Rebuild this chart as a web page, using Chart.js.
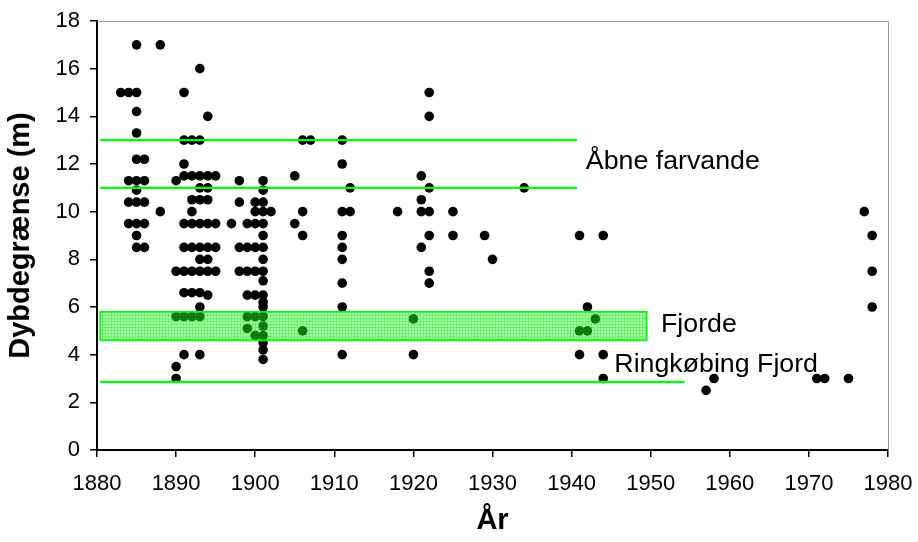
<!DOCTYPE html>
<html>
<head>
<meta charset="utf-8">
<script src="https://cdn.jsdelivr.net/npm/chart.js@4.4.1/dist/chart.umd.min.js"></script>
<style>
  html, body { margin: 0; padding: 0; background: #fff; }
  canvas { display: block; }
</style>
</head>
<body>
<canvas id="depthChart" width="918" height="542"></canvas>
<script>
// observations: year and depth limit (m), same index
const years = [
    1883,
    1884, 1884, 1884, 1884,
    1885, 1885, 1885, 1885, 1885, 1885, 1885, 1885, 1885, 1885, 1885,
    1886, 1886, 1886, 1886, 1886,
    1888, 1888,
    1890, 1890, 1890, 1890, 1890,
    1891, 1891, 1891, 1891, 1891, 1891, 1891, 1891, 1891, 1891,
    1892, 1892, 1892, 1892, 1892, 1892, 1892, 1892, 1892,
    1893, 1893, 1893, 1893, 1893, 1893, 1893, 1893, 1893, 1893, 1893, 1893, 1893,
    1894, 1894, 1894, 1894, 1894, 1894, 1894, 1894, 1894,
    1895, 1895, 1895, 1895,
    1897,
    1898, 1898, 1898, 1898,
    1899, 1899, 1899, 1899, 1899, 1899,
    1900, 1900, 1900, 1900, 1900, 1900, 1900, 1900,
    1901, 1901, 1901, 1901, 1901, 1901, 1901, 1901, 1901, 1901,
    1901, 1901, 1901, 1901, 1901, 1901, 1901, 1901, 1901,
    1902,
    1905, 1905,
    1906, 1906, 1906, 1906,
    1907,
    1911, 1911, 1911, 1911, 1911, 1911, 1911, 1911, 1911,
    1912, 1912,
    1918,
    1920, 1920,
    1921, 1921, 1921, 1921,
    1922, 1922, 1922, 1922, 1922, 1922, 1922,
    1925, 1925,
    1929,
    1930,
    1934,
    1941, 1941, 1941,
    1942, 1942,
    1943,
    1944, 1944, 1944,
    1957, 1958,
    1971, 1972, 1975,
    1977,
    1978, 1978, 1978
];
const depths = [
    15,
    15, 11.3, 10.4, 9.5,
    17, 15, 14.2, 13.3, 12.2, 11.3, 10.9, 10.4, 9.5, 9, 8.5,
    12.2, 11.3, 10.4, 9.5, 8.5,
    17, 10,
    11.3, 7.5, 5.6, 3.5, 3,
    15, 13, 12, 11.5, 9.5, 8.5, 7.5, 6.6, 5.6, 4,
    13, 11.5, 10.5, 10, 9.5, 8.5, 7.5, 6.6, 5.6,
    16, 13, 11.5, 11, 10.5, 9.5, 8.5, 8, 7.5, 6.6, 6, 5.6, 4,
    14, 11.5, 11, 10.5, 9.5, 8.5, 8, 7.5, 6.5,
    11.5, 9.5, 8.5, 7.5,
    9.5,
    11.3, 10.4, 8.5, 7.5,
    9.5, 8.5, 7.5, 6.5, 5.6, 5.1,
    10.4, 10, 9.5, 8.5, 7.5, 6.5, 5.6, 4.8,
    11.3, 10.9, 10.4, 10, 9.5, 9, 8.5, 8, 7.5, 7.1,
    6.5, 6.2, 6, 5.6, 5.2, 4.8, 4.5, 4.2, 3.8,
    10,
    11.5, 9.5,
    13, 10, 9, 5,
    13,
    13, 12, 10, 9, 8.5, 8, 7, 6, 4,
    11, 10,
    10,
    5.5, 4,
    11.5, 10.5, 10, 8.5,
    15, 14, 11, 10, 9, 7.5, 7,
    10, 9,
    9,
    8,
    11,
    9, 5, 4,
    6, 5,
    5.5,
    9, 4, 3,
    2.5, 3,
    3, 3, 3,
    10,
    9, 7.5, 6
];

// reference levels
const openWaterDepths = [13, 11];
const openWaterYears = [1880.4, 1940.7];
const fjordRange = [4.6, 5.8];
const fjordYears = [1880.4, 1949.5];
const ringkobingDepth = 2.86;
const ringkobingYears = [1880.4, 1954.3];

const xTicks = [1880, 1980, 10];
const yTicks = [0, 18, 2];

const FONT = '"Liberation Sans", Arial, sans-serif';
const GREEN = '#00ff00';

const points = years.map((yr, i) => ({ x: yr, y: depths[i] }));

function levelLine(depth, span) {
    return {
        type: 'line',
        data: [{ x: span[0], y: depth }, { x: span[1], y: depth }],
        borderColor: GREEN,
        borderWidth: 2.2,
        pointRadius: 0,
        fill: false,
        order: 0
    };
}

function bandPattern(ctx) {
    const c = document.createElement('canvas');
    c.width = 3;
    c.height = 3;
    const g = c.getContext('2d');
    g.fillStyle = 'rgba(40,255,40,0.42)';
    g.fillRect(0, 0, 3, 3);
    g.fillStyle = 'rgba(0,190,0,0.3)';
    g.fillRect(0, 0, 1, 3);
    g.fillRect(1, 0, 2, 1);
    return ctx.createPattern(c, 'repeat');
}

const overlay = {
    id: 'overlay',
    afterDatasetsDraw(chart) {
        const { ctx, chartArea: a, scales: { x, y } } = chart;
        ctx.save();
        ctx.strokeStyle = '#999';
        ctx.lineWidth = 1;
        ctx.beginPath();
        ctx.moveTo(a.left, a.top + 0.5);
        ctx.lineTo(a.right + 0.5, a.top + 0.5);
        ctx.lineTo(a.right + 0.5, a.bottom);
        ctx.stroke();

        ctx.fillStyle = '#000';
        ctx.font = '25px ' + FONT;
        ctx.textBaseline = 'middle';
        const notes = [
            { text: 'Åbne farvande', x: 1941.8, y: 12.1 },
            { text: 'Fjorde', x: 1951.3, y: 5.26 },
            { text: 'Ringkøbing Fjord', x: 1945.4, y: 3.56 }
        ];
        notes.forEach(n => {
            ctx.save();
            ctx.translate(x.getPixelForValue(n.x), y.getPixelForValue(n.y));
            ctx.scale(1.07, 1);
            ctx.fillText(n.text, 0, 0);
            ctx.restore();
        });
        ctx.restore();
    }
};

const ctx = document.getElementById('depthChart').getContext('2d');

const chart = new Chart(ctx, {
    type: 'scatter',
    data: {
        datasets: [
            {
                data: points,
                backgroundColor: '#000',
                borderWidth: 0,
                pointRadius: 4.8,
                order: 1
            },
            levelLine(openWaterDepths[0], openWaterYears),
            levelLine(openWaterDepths[1], openWaterYears),
            {
                type: 'line',
                data: [
                    { x: fjordYears[0], y: fjordRange[0] },
                    { x: fjordYears[0], y: fjordRange[1] },
                    { x: fjordYears[1], y: fjordRange[1] },
                    { x: fjordYears[1], y: fjordRange[0] },
                    { x: fjordYears[0], y: fjordRange[0] }
                ],
                borderColor: GREEN,
                borderWidth: 1.6,
                backgroundColor: bandPattern(ctx),
                pointRadius: 0,
                fill: 'shape',
                order: 0
            },
            levelLine(ringkobingDepth, ringkobingYears)
        ]
    },
    options: {
        responsive: false,
        animation: false,
        layout: { padding: { left: 0, right: 30, top: 21, bottom: 0 } },
        plugins: {
            legend: { display: false },
            tooltip: { enabled: false }
        },
        scales: {
            x: {
                type: 'linear',
                min: xTicks[0],
                max: xTicks[1],
                ticks: {
                    stepSize: xTicks[2],
                    color: '#000',
                    font: { family: FONT, size: 22 },
                    padding: 14,
                    maxRotation: 0,
                    callback: v => String(v)
                },
                grid: { drawOnChartArea: false, tickLength: 7, color: '#000', lineWidth: 1.5 },
                border: { color: '#000', width: 2 },
                title: {
                    display: true,
                    text: 'År',
                    color: '#000',
                    font: { family: FONT, size: 29, weight: 'bold' },
                    padding: { top: 0, bottom: 4 }
                },
                afterFit: s => {
                    s.height = 92;
                    s.paddingLeft = 0;
                    s.paddingRight = 0;
                }
            },
            y: {
                min: yTicks[0],
                max: yTicks[1],
                ticks: {
                    stepSize: yTicks[2],
                    color: '#000',
                    font: { family: FONT, size: 22 },
                    padding: 10
                },
                grid: { drawOnChartArea: false, tickLength: 7, color: '#000', lineWidth: 1.5 },
                border: { color: '#000', width: 2 },
                title: {
                    display: true,
                    text: 'Dybdegrænse (m)',
                    color: '#000',
                    font: { family: FONT, size: 29, weight: 'bold' },
                    padding: { top: 4, bottom: 0 }
                },
                afterFit: s => {
                    s.width = 97;
                    s.paddingTop = 0;
                    s.paddingBottom = 0;
                }
            }
        }
    },
    plugins: [overlay]
});
</script>
</body>
</html>
